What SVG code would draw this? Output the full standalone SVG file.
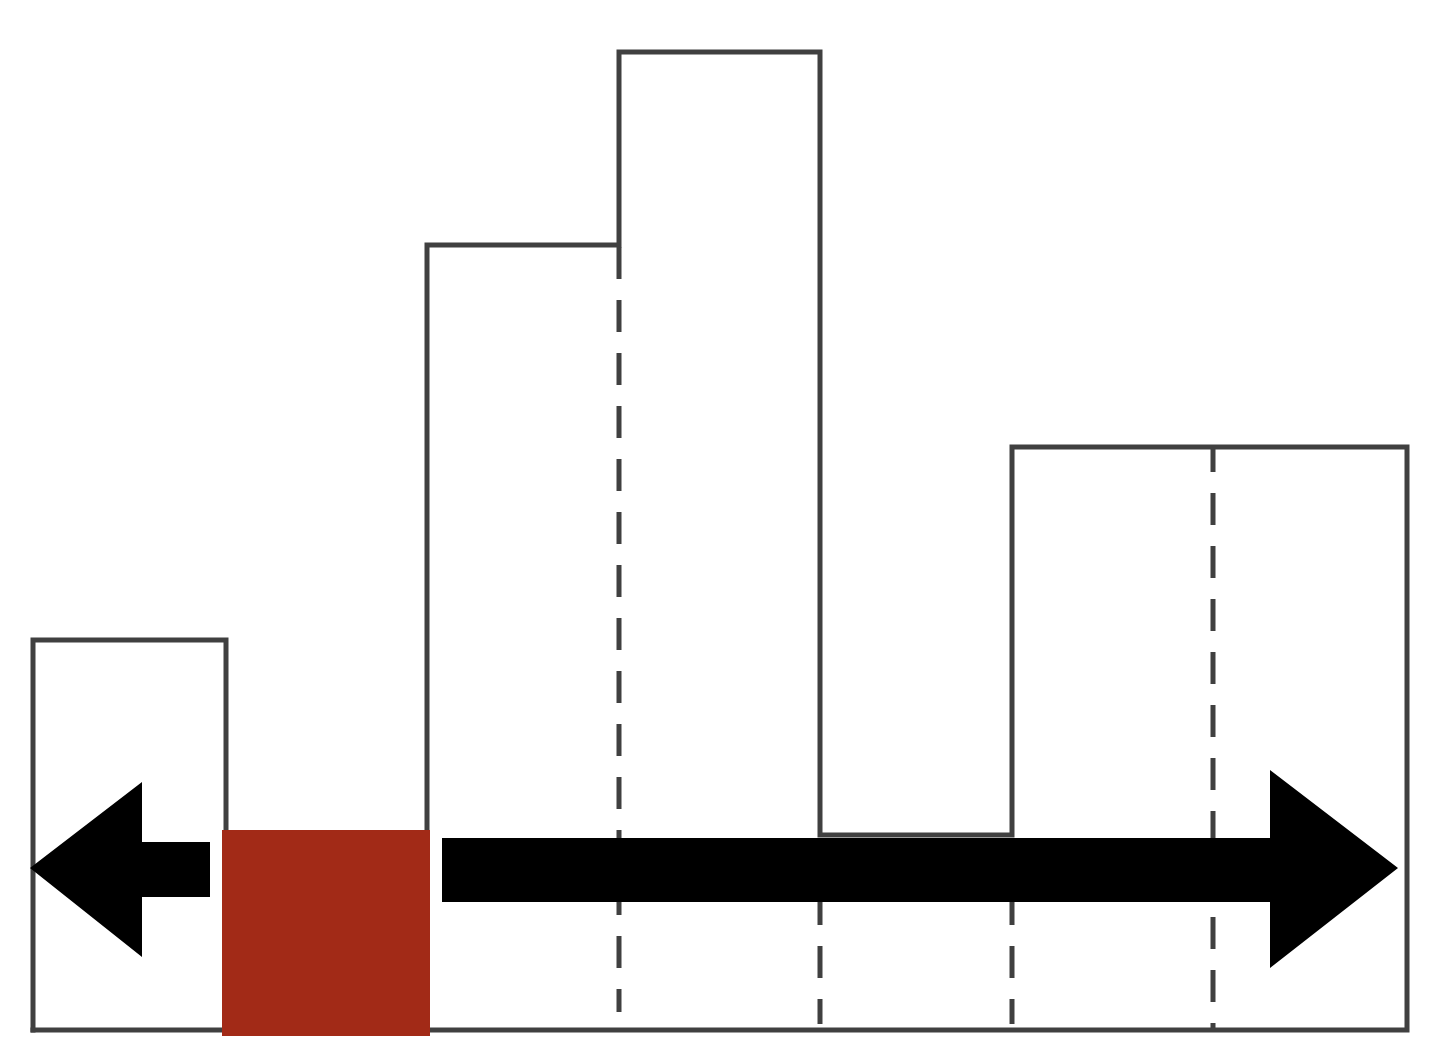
<svg xmlns="http://www.w3.org/2000/svg" width="1436" height="1050" viewBox="0 0 1436 1050">
<style>
.out{fill:none;stroke:#404040;stroke-width:5;stroke-linejoin:miter;stroke-linecap:square}
.dash{fill:none;stroke:#404040;stroke-width:5;stroke-dasharray:32 21}
.arr{fill:#000}
</style>
<rect width="1436" height="1050" fill="#fff"/>
<g id="histogram">
<path class="out" d="M33 1030 V640 H226 V830"/>
<path class="out" d="M427 830 V245 H619 V52 H820 V835 H1012 V447 H1407 V1030 H33"/>
</g>
<g id="dividers">
<line class="dash" x1="619" y1="247" x2="619" y2="1012"/>
<line class="dash" x1="820" y1="840" x2="820" y2="1024"/>
<line class="dash" x1="1012" y1="840" x2="1012" y2="1024"/>
<line class="dash" x1="1213" y1="447" x2="1213" y2="1030" stroke-dashoffset="7"/>
</g>
<g id="connectors">
<polygon class="arr" points="30,868 142,782 142,842 210,842 210,897 142,897 142,957"/>
<polygon class="arr" points="442,838 1270,838 1270,770 1398,868 1270,968 1270,902 442,902"/>
</g>
<g id="marker-square">
<rect x="222" y="830" width="208" height="206" fill="#A22A17"/>
</g>
</svg>
